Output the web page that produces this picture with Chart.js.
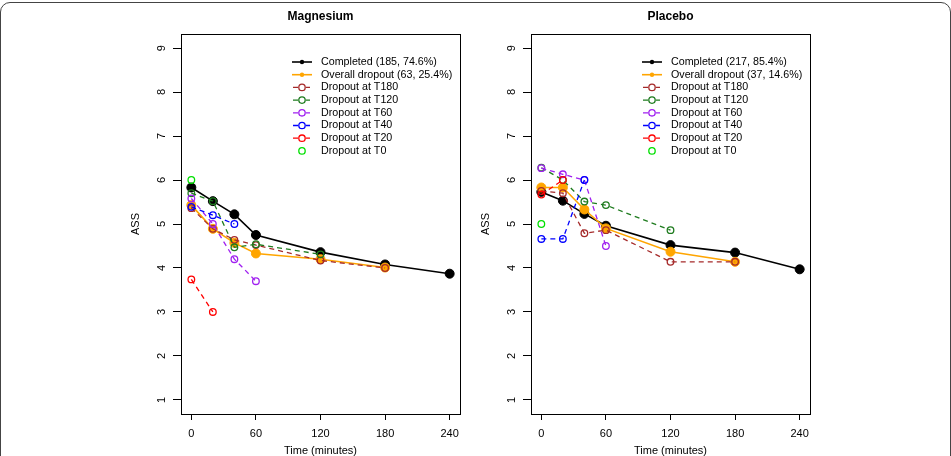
<!DOCTYPE html>
<html>
<head>
<meta charset="utf-8">
<script src="https://cdn.jsdelivr.net/npm/chart.js@4"></script>
<style>
body { margin: 0; background: #fff; }
#wrap { position: relative; width: 951px; height: 456px; overflow: hidden; }
#frame { position: absolute; left: 0; top: 2px; width: 949px; height: 520px; border: 1px solid #444; border-radius: 10px; }
canvas { position: absolute; top: 0; }
</style>
</head>
<body>
<div id="wrap">
  <div id="frame"></div>
  <canvas id="mag" width="475" height="456" style="left:0"></canvas>
  <canvas id="pla" width="476" height="456" style="left:475px"></canvas>
</div>
<script>
const times = [0, 20, 40, 60, 120, 180, 240];
const xTicks = [0, 60, 120, 180, 240];
const yTicks = [1, 2, 3, 4, 5, 6, 7, 8, 9];
const groups = ['Completed', 'Overall dropout', 'Dropout at T180', 'Dropout at T120',
                'Dropout at T60', 'Dropout at T40', 'Dropout at T20', 'Dropout at T0'];
const colors = ['#000000', '#FFA500', '#A52A2A', '#1E7B1E', '#A020F0', '#0000FF', '#FF0000', '#00E000'];

// Magnesium
const magCounts = ['185, 74.6%', '63, 25.4%'];
const magCompleted = [5.83, 5.52, 5.22, 4.75, 4.36, 4.08, 3.87];
const magOverall = [5.43, 4.89, 4.57, 4.33, 4.20, 4.01];
const magT180 = [5.36, 4.89, 4.64, 4.52, 4.17, 4.00];
const magT120 = [5.70, 5.52, 4.47, 4.54, 4.31];
const magT60 = [5.58, 5.00, 4.20, 3.70];
const magT40 = [5.39, 5.20, 5.00];
const magT20 = [3.74, 3.00];
const magT0 = [6.00];

// Placebo
const plaCounts = ['217, 85.4%', '37, 14.6%'];
const plaCompleted = [5.73, 5.53, 5.23, 4.96, 4.52, 4.35, 3.97];
const plaOverall = [5.83, 5.83, 5.33, 4.90, 4.37, 4.14];
const plaT180 = [5.75, 5.70, 4.79, 4.86, 4.14, 4.14];
const plaT120 = [6.28, 6.00, 5.51, 5.43, 4.86];
const plaT60 = [6.27, 6.13, 6.00, 4.50];
const plaT40 = [4.66, 4.66, 6.00];
const plaT20 = [5.67, 6.00];
const plaT0 = [5.00];

const family = '"Liberation Sans", Arial, Helvetica, sans-serif';

// box, title and R-style legend inside the plot
const decor = {
  id: 'decor',
  afterDraw(chart, args, opts) {
    const ctx = chart.ctx, a = chart.chartArea;
    ctx.save();
    ctx.strokeStyle = '#000';
    ctx.lineWidth = 1;
    ctx.strokeRect(a.left + 0.5, a.top + 0.5, a.right - a.left, a.bottom - a.top);

    ctx.fillStyle = '#000';
    ctx.font = 'bold 12px ' + family;
    ctx.textAlign = 'center';
    ctx.textBaseline = 'middle';
    ctx.fillText(opts.title, (a.left + a.right) / 2, 17);

    ctx.font = '10.7px ' + family;
    ctx.textAlign = 'left';
    chart.data.datasets.forEach((ds, k) => {
      const y = a.top + 28 + k * 12.7;
      const x0 = a.left + 111;
      ctx.strokeStyle = ds.borderColor;
      ctx.fillStyle = ds.borderColor;
      if (k < 2) {
        ctx.lineWidth = 1.6;
        ctx.beginPath(); ctx.moveTo(x0, y); ctx.lineTo(x0 + 20, y); ctx.stroke();
        ctx.beginPath(); ctx.arc(x0 + 10, y, 2.2, 0, Math.PI * 2); ctx.fill();
      } else {
        ctx.lineWidth = 1.3;
        if (ds.showLine) {
          ctx.beginPath();
          ctx.moveTo(x0 + 1, y); ctx.lineTo(x0 + 6, y);
          ctx.moveTo(x0 + 14, y); ctx.lineTo(x0 + 18, y);
          ctx.stroke();
        }
        ctx.beginPath(); ctx.arc(x0 + 10, y, 3.2, 0, Math.PI * 2); ctx.stroke();
      }
      ctx.fillStyle = '#000';
      ctx.fillText(ds.label, x0 + 29, y);
    });
    ctx.restore();
  }
};

function makePanel(id, title, counts, series, yAxisW, padRight, yTitlePad) {
  const datasets = series.map((vals, k) => {
    const main = k < 2;
    return {
      label: main ? groups[k] + ' (' + counts[k] + ')' : groups[k],
      data: vals.map((v, i) => ({ x: times[i], y: v })),
      borderColor: colors[k],
      backgroundColor: colors[k],
      pointBackgroundColor: main ? colors[k] : 'rgba(0,0,0,0)',
      pointBorderColor: colors[k],
      pointRadius: main ? 4.5 : 3.3,
      pointBorderWidth: main ? 1 : 1.3,
      borderWidth: main ? 1.6 : 1.3,
      borderDash: main ? [] : [5, 4],
      showLine: k < 7,
      tension: 0,
      order: 10 - k
    };
  });

  new Chart(document.getElementById(id), {
    type: 'line',
    data: { datasets: datasets },
    plugins: [decor],
    options: {
      responsive: false,
      animation: false,
      devicePixelRatio: 1,
      layout: { padding: { top: 34, right: padRight, left: 0, bottom: 0 } },
      plugins: {
        legend: { display: false },
        tooltip: { enabled: false },
        decor: { title: title }
      },
      scales: {
        x: {
          type: 'linear',
          min: -9.6,
          max: 249.6,
          afterBuildTicks: s => { s.ticks = xTicks.map(v => ({ value: v })); },
          afterFit: s => { s.height = 42; },
          grid: { drawOnChartArea: false, drawTicks: true, tickLength: 6, color: '#000' },
          border: { display: false },
          ticks: { color: '#000', font: { size: 11, family: family }, padding: 7, maxRotation: 0 },
          title: { display: true, text: 'Time (minutes)', color: '#000',
                   font: { size: 11, family: family, lineHeight: 1 }, padding: { top: 0, bottom: 0 } }
        },
        y: {
          type: 'linear',
          min: 0.68,
          max: 9.32,
          afterBuildTicks: s => { s.ticks = yTicks.map(v => ({ value: v })); },
          afterFit: s => { s.width = yAxisW; },
          grid: { drawOnChartArea: false, drawTicks: true, tickLength: 8, color: '#000' },
          border: { display: false },
          ticks: { color: '#000', font: { size: 11, family: family }, padding: 8,
                   minRotation: 90, maxRotation: 90, crossAlign: 'center' },
          title: { display: true, text: 'ASS', color: '#000',
                   font: { size: 11, family: family, lineHeight: 1 }, padding: { top: yTitlePad, bottom: 0 } }
        }
      }
    }
  });
}

makePanel('mag', 'Magnesium', magCounts,
  [magCompleted, magOverall, magT180, magT120, magT60, magT40, magT20, magT0], 181, 15, 130.5);
makePanel('pla', 'Placebo', plaCounts,
  [plaCompleted, plaOverall, plaT180, plaT120, plaT60, plaT40, plaT20, plaT0], 56, 141, 5.5);
</script>
</body>
</html>
